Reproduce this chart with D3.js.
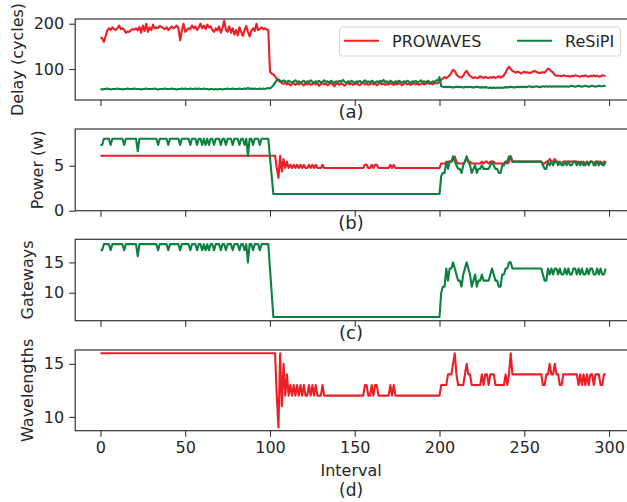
<!DOCTYPE html>
<html>
<head>
<meta charset="utf-8">
<script src="https://cdn.jsdelivr.net/npm/d3@7"></script>
<style>
body { margin: 0; background: #fff; }
text { font-family: "DejaVu Sans", sans-serif; }
</style>
</head>
<body>
<div id="chart"></div>
<script>
// one value per interval, interval = array index
const xTicks = [0, 50, 100, 150, 200, 250, 300];
const seriesNames = ["PROWAVES", "ReSiPI"];

// (a) delay, cycles
const delayProwaves = [
  170,168,160,172,185,190,186,192,188,186, 190,196,188,190,186,180,183,182,186,188,
  187,190,185,193,180,196,184,200,182,192, 186,198,190,192,190,195,193,190,188,192,
  186,190,194,190,192,196,190,163,185,200, 182,186,190,188,196,190,194,186,192,200,
  190,196,188,198,192,194,186,182,190,185, 194,180,190,207,186,182,194,180,190,176,
  186,174,192,182,173,186,195,182,172,184, 190,184,200,186,188,192,188,190,187,186,
  94,90,88,84,78,74,72,69,67,70, 66,68,64,67,69,65,68,66,70,67,
  64,68,66,69,65,67,70,66,68,63, 67,69,66,68,64,67,70,66,62,67,
  68,65,69,66,63,67,70,66,68,65, 67,69,66,64,68,70,66,68,65,67,
  69,66,68,64,67,70,66,68,65,67, 66,69,67,65,68,66,69,67,64,68,
  70,66,68,65,67,69,66,68,65,67, 69,66,68,70,67,69,66,70,68,69,
  72,76,79,82,80,83,86,92,98,96, 88,84,82,81,85,92,96,89,85,82,
  80,82,80,81,84,82,80,83,81,80, 82,81,83,80,82,84,81,83,86,92,
  100,105,100,96,94,92,94,93,90,92, 94,92,93,91,92,94,96,94,92,91,
  92,93,92,96,101,99,95,92,87,85, 85,85,84,86,85,84,85,83,85,84,
  86,85,84,83,85,84,86,84,83,85, 84,86,84,85,83,84,86,85,85
];
const delayResipi = [
  56,55,56,56,57,56,55,56,56,56, 57,56,56,55,56,56,57,56,56,56,
  57,56,56,56,55,56,56,57,56,56, 56,56,57,56,55,56,56,56,57,56,
  56,56,57,56,56,55,56,56,57,56, 57,56,56,57,56,56,57,56,57,56,
  56,57,56,56,55,56,56,55,56,55, 56,56,55,56,56,57,56,56,57,56,
  56,56,57,56,56,57,56,58,56,57, 56,57,56,56,57,56,57,56,57,58,
  57,60,64,70,75,77,74,72,75,73, 71,74,72,70,73,75,71,73,69,72,
  74,70,73,71,75,72,69,73,71,74, 70,72,75,71,73,70,74,72,69,73,
  71,74,72,76,72,70,73,71,74,72, 69,73,71,74,70,72,75,71,73,70,
  74,72,69,73,71,74,72,76,71,73, 70,74,72,69,73,71,74,72,70,73,
  71,74,72,69,73,71,74,70,72,75, 71,73,70,74,72,69,73,71,75,74,
  82,62,61,60,61,60,61,60,59,60, 61,60,61,60,59,60,61,60,61,60,
  59,60,61,60,59,60,59,60,59,58, 59,58,59,58,59,58,59,58,59,60,
  59,60,61,60,59,60,61,60,61,60, 61,60,61,62,61,60,61,62,61,60,
  61,62,61,62,61,62,61,62,61,62, 61,62,61,62,61,62,61,62,63,62,
  61,62,63,62,61,62,63,62,61,62, 63,62,61,62,63,62,62,63,62
];

// (b) power, w
const powerProwaves = [
  6.1,6.1,6.1,6.1,6.1,6.1,6.1,6.1,6.1,6.1, 6.1,6.1,6.1,6.1,6.1,6.1,6.1,6.1,6.1,6.1,
  6.1,6.1,6.1,6.1,6.1,6.1,6.1,6.1,6.1,6.1, 6.1,6.1,6.1,6.1,6.1,6.1,6.1,6.1,6.1,6.1,
  6.1,6.1,6.1,6.1,6.1,6.1,6.1,6.1,6.1,6.1, 6.1,6.1,6.1,6.1,6.1,6.1,6.1,6.1,6.1,6.1,
  6.1,6.1,6.1,6.1,6.1,6.1,6.1,6.1,6.1,6.1, 6.1,6.1,6.1,6.1,6.1,6.1,6.1,6.1,6.1,6.1,
  6.1,6.1,6.1,6.1,6.1,6.1,6.1,6.1,6.1,6.1, 6.1,6.1,6.1,6.1,6.1,6.1,6.1,6.1,6.1,6.1,
  6.1,6.1,6.1,6.1,4.75,3.65,6.1,4.35,5.75,4.75, 5.45,4.75,5.1,4.75,5.1,4.75,5.1,4.75,5.1,4.75,
  5.1,4.75,4.75,5.1,4.75,5.1,4.75,5.1,4.75,4.75, 4.75,5.1,4.75,4.75,4.75,4.75,4.75,4.75,4.75,4.75,
  4.75,4.75,4.75,4.75,4.75,4.75,4.75,4.75,4.75,4.75, 4.75,4.75,4.75,4.75,4.75,4.75,5.1,5.1,4.75,4.75,
  5.1,4.75,5.1,5.1,4.75,4.75,4.75,4.75,4.75,4.75, 4.75,5.1,4.75,5.1,4.75,4.75,4.75,4.75,4.75,4.75,
  4.75,4.75,4.75,4.75,4.75,4.75,4.75,4.75,4.75,4.75, 4.75,4.75,4.75,4.75,4.75,4.75,4.75,4.75,4.75,4.75,
  4.75,5.25,5.25,5.25,5.25,5.45,5.45,5.45,5.75,6.0, 5.45,5.25,5.25,5.25,5.25,5.45,5.75,5.45,5.45,5.25,
  5.25,5.25,5.25,5.25,5.25,5.45,5.25,5.45,5.45,5.25, 5.45,5.45,5.45,5.25,5.25,5.25,5.25,5.25,5.25,5.45,
  5.25,5.45,6.0,5.45,5.45,5.45,5.45,5.45,5.45,5.45, 5.45,5.45,5.45,5.45,5.45,5.45,5.45,5.45,5.45,5.45,
  5.45,5.25,5.25,5.45,5.45,5.75,5.45,5.45,5.75,5.45, 5.45,5.25,5.25,5.45,5.45,5.45,5.45,5.45,5.45,5.45,
  5.45,5.45,5.25,5.45,5.25,5.45,5.25,5.45,5.25,5.45, 5.45,5.25,5.45,5.45,5.45,5.25,5.25,5.45,5.45
];
const powerResipi = [
  7.3,7.3,8,8,8,8,7.3,8,8,8, 8,8,8,8,7.3,8,8,8,8,8,
  8,8,6.6,8,8,8,8,8,8,8, 8,8,8,8,7.3,8,8,8,8,8,
  7.3,8,8,8,8,8,8,7.3,8,8, 8,8,8,7.3,8,8,8,7.3,8,8,
  7.3,8,7.3,8,7.3,8,8,7.3,8,8, 8,7.3,8,8,7.3,8,8,8,7.3,8,
  8,8,7.3,8,8,7.3,8,6.05,8,8, 7.3,8,8,8,7.3,8,8,8,8,8,
  5.9,3.9,1.85,1.85,1.85,1.85,1.85,1.85,1.85,1.85, 1.85,1.85,1.85,1.85,1.85,1.85,1.85,1.85,1.85,1.85,
  1.85,1.85,1.85,1.85,1.85,1.85,1.85,1.85,1.85,1.85, 1.85,1.85,1.85,1.85,1.85,1.85,1.85,1.85,1.85,1.85,
  1.85,1.85,1.85,1.85,1.85,1.85,1.85,1.85,1.85,1.85, 1.85,1.85,1.85,1.85,1.85,1.85,1.85,1.85,1.85,1.85,
  1.85,1.85,1.85,1.85,1.85,1.85,1.85,1.85,1.85,1.85, 1.85,1.85,1.85,1.85,1.85,1.85,1.85,1.85,1.85,1.85,
  1.85,1.85,1.85,1.85,1.85,1.85,1.85,1.85,1.85,1.85, 1.85,1.85,1.85,1.85,1.85,1.85,1.85,1.85,1.85,1.85,
  1.85,3.85,4.2,4.2,5.45,4.65,5.45,5.45,6.05,5.45, 5.05,4.65,4.65,4.2,5.05,5.45,6.05,5.45,5.05,4.2,
  4.65,5.05,4.2,4.65,4.65,5.05,4.65,4.65,4.65,4.65, 5.05,5.45,5.05,4.65,4.65,4.2,4.2,5.05,5.05,5.45,
  5.45,6.05,6.05,5.45,5.45,5.45,5.45,5.45,5.45,5.45, 5.45,5.45,5.45,5.45,5.45,5.45,5.45,5.45,5.45,5.45,
  5.45,5.05,4.65,4.65,5.45,5.05,5.45,5.05,5.45,5.45, 5.05,5.45,5.05,5.05,5.45,5.05,5.45,5.05,5.05,5.45,
  5.45,5.05,5.45,5.05,5.45,5.05,5.05,5.45,5.05,5.45, 5.45,5.05,5.05,5.45,5.05,5.45,5.05,5.05,5.45
];

// (c) gateways, ReSiPI only
const gatewaysResipi = [
  17,17,18,18,18,18,17,18,18,18, 18,18,18,18,17,18,18,18,18,18,
  18,18,16,18,18,18,18,18,18,18, 18,18,18,18,17,18,18,18,18,18,
  17,18,18,18,18,18,18,17,18,18, 18,18,18,17,18,18,18,17,18,18,
  17,18,17,18,17,18,18,17,18,18, 18,17,18,18,17,18,18,18,17,18,
  18,18,17,18,18,17,18,15,18,18, 17,18,18,18,17,18,18,18,18,18,
  14,10,6,6,6,6,6,6,6,6, 6,6,6,6,6,6,6,6,6,6,
  6,6,6,6,6,6,6,6,6,6, 6,6,6,6,6,6,6,6,6,6,
  6,6,6,6,6,6,6,6,6,6, 6,6,6,6,6,6,6,6,6,6,
  6,6,6,6,6,6,6,6,6,6, 6,6,6,6,6,6,6,6,6,6,
  6,6,6,6,6,6,6,6,6,6, 6,6,6,6,6,6,6,6,6,6,
  6,10,11,11,14,12,14,14,15,14, 13,12,12,11,13,14,15,14,13,11,
  12,13,11,12,12,13,12,12,12,12, 13,14,13,12,12,11,11,13,13,14,
  14,15,15,14,14,14,14,14,14,14, 14,14,14,14,14,14,14,14,14,14,
  14,13,12,12,14,13,14,13,14,14, 13,14,13,13,14,13,14,13,13,14,
  14,13,14,13,14,13,13,14,13,14, 14,13,13,14,13,14,13,13,14
];

// (d) wavelengths, PROWAVES only
const wavelengthsProwaves = [
  16,16,16,16,16,16,16,16,16,16, 16,16,16,16,16,16,16,16,16,16,
  16,16,16,16,16,16,16,16,16,16, 16,16,16,16,16,16,16,16,16,16,
  16,16,16,16,16,16,16,16,16,16, 16,16,16,16,16,16,16,16,16,16,
  16,16,16,16,16,16,16,16,16,16, 16,16,16,16,16,16,16,16,16,16,
  16,16,16,16,16,16,16,16,16,16, 16,16,16,16,16,16,16,16,16,16,
  16,16,16,16,12,9,16,11,15,12, 14,12,13,12,13,12,13,12,13,12,
  13,12,12,13,12,13,12,13,12,12, 12,13,12,12,12,12,12,12,12,12,
  12,12,12,12,12,12,12,12,12,12, 12,12,12,12,12,12,13,13,12,12,
  13,12,13,13,12,12,12,12,12,12, 12,13,12,13,12,12,12,12,12,12,
  12,12,12,12,12,12,12,12,12,12, 12,12,12,12,12,12,12,12,12,12,
  12,13,13,13,13,14,14,14,15,16, 14,13,13,13,13,14,15,14,14,13,
  13,13,13,13,13,14,13,14,14,13, 14,14,14,13,13,13,13,13,13,14,
  13,14,16,14,14,14,14,14,14,14, 14,14,14,14,14,14,14,14,14,14,
  14,13,13,14,14,15,14,14,15,14, 14,13,13,14,14,14,14,14,14,14,
  14,14,13,14,13,14,13,14,13,14, 14,13,14,14,14,13,13,14,14
];

const red = "#ec1f26";
const green = "#0c8140";
const width = 627, height = 502;

// x pixel positions measured from the tick marks: 0 -> 100.5, 300 -> 609
const xscale = d3.scaleLinear().domain([-14.9, 312.9]).range([75.2, 630.9]);

const panels = [
  { top: 19, bottom: 100, domain: [31.6, 210.4], ticks: [100, 200],
    ylabel: "Delay (cycles)", ylabelX: 18.3,
    lines: [[delayProwaves, red], [delayResipi, green]] },
  { top: 129, bottom: 210.7, domain: [0, 9.08], ticks: [0, 5],
    ylabel: "Power (w)", ylabelX: 38.3,
    lines: [[powerProwaves, red], [powerResipi, green]] },
  { top: 239.3, bottom: 320.7, domain: [5.4, 18.8], ticks: [10, 15],
    ylabel: "Gateways", ylabelX: 27.8,
    lines: [[gatewaysResipi, green]] },
  { top: 350, bottom: 430.7, domain: [8.7, 16.3], ticks: [10, 15],
    ylabel: "Wavelengths", ylabelX: 28,
    lines: [[wavelengthsProwaves, red]] }
];
const sublabels = ["(a)", "(b)", "(c)", "(d)"];

const svg = d3.select("#chart")
  .append("svg")
  .attr("width", width)
  .attr("height", height);

svg.append("rect").attr("width", width).attr("height", height).attr("fill", "#fff");

function styleAxis(g) {
  g.select(".domain").remove();
  g.selectAll(".tick line").attr("stroke", "#333").attr("stroke-width", 1.1);
  g.selectAll(".tick text")
    .attr("fill", "#262626")
    .style("font-size", "16px")
    .style("font-family", "'DejaVu Sans', sans-serif");
}

panels.forEach(function(p, k) {
  const yscale = d3.scaleLinear().domain(p.domain).range([p.bottom, p.top]);
  const last = k === panels.length - 1;

  svg.append("clipPath").attr("id", "clip" + k)
    .append("rect")
    .attr("x", xscale.range()[0]).attr("y", p.top)
    .attr("width", xscale.range()[1] - xscale.range()[0])
    .attr("height", p.bottom - p.top);

  const line = d3.line()
    .x(function(d, i) { return xscale(i); })
    .y(function(d) { return yscale(d); });

  p.lines.forEach(function(l) {
    svg.append("path")
      .datum(l[0])
      .attr("clip-path", "url(#clip" + k + ")")
      .attr("fill", "none")
      .attr("stroke", l[1])
      .attr("stroke-width", 2.1)
      .attr("stroke-linejoin", "round")
      .attr("d", line);
  });

  // spines
  svg.append("rect")
    .attr("x", xscale.range()[0]).attr("y", p.top)
    .attr("width", xscale.range()[1] - xscale.range()[0])
    .attr("height", p.bottom - p.top)
    .attr("fill", "none")
    .attr("stroke", "#333")
    .attr("stroke-width", 1.2);

  // y-axis
  svg.append("g")
    .attr("transform", "translate(" + xscale.range()[0] + ",0)")
    .call(d3.axisLeft(yscale).tickValues(p.ticks).tickSize(6).tickPadding(5))
    .call(styleAxis);

  // x-axis, labels only on the last panel
  const xAxis = d3.axisBottom(xscale).tickValues(xTicks).tickSize(6).tickPadding(5);
  if (!last) xAxis.tickFormat("");
  svg.append("g")
    .attr("transform", "translate(0," + p.bottom + ")")
    .call(xAxis)
    .call(styleAxis);

  // y label
  svg.append("text")
    .attr("transform", "translate(" + p.ylabelX + "," + (p.top + p.bottom) / 2 + ") rotate(-90)")
    .attr("dy", "0.3em")
    .attr("text-anchor", "middle")
    .attr("fill", "#262626")
    .style("font-size", "16px")
    .text(p.ylabel);

  // sub label under each panel
  const cx = (xscale.range()[0] + xscale.range()[1]) / 2 - 2;
  if (last) {
    svg.append("text")
      .attr("x", cx).attr("y", 476)
      .attr("text-anchor", "middle")
      .attr("fill", "#262626")
      .style("font-size", "16px")
      .text("Interval");
    svg.append("text")
      .attr("x", cx).attr("y", 496)
      .attr("text-anchor", "middle")
      .attr("fill", "#262626")
      .style("font-size", "17px")
      .text(sublabels[k]);
  } else {
    svg.append("text")
      .attr("x", cx).attr("y", p.bottom + 18)
      .attr("text-anchor", "middle")
      .attr("fill", "#262626")
      .style("font-size", "18px")
      .text(sublabels[k]);
  }
});

// legend in panel (a)
const legend = svg.append("g");
legend.append("rect")
  .attr("x", 339.5).attr("y", 27)
  .attr("width", 281).attr("height", 29)
  .attr("rx", 3)
  .attr("fill", "#fff").attr("fill-opacity", 0.85)
  .attr("stroke", "#d5d5d5");
const legendItems = [[seriesNames[0], red, 344], [seriesNames[1], green, 517]];
legendItems.forEach(function(it) {
  legend.append("line")
    .attr("x1", it[2]).attr("x2", it[2] + 35)
    .attr("y1", 40.7).attr("y2", 40.7)
    .attr("stroke", it[1]).attr("stroke-width", 2.1);
  legend.append("text")
    .attr("x", it[2] + 48).attr("y", 46.5)
    .attr("fill", "#262626")
    .style("font-size", "16px")
    .text(it[0]);
});
</script>
</body>
</html>
